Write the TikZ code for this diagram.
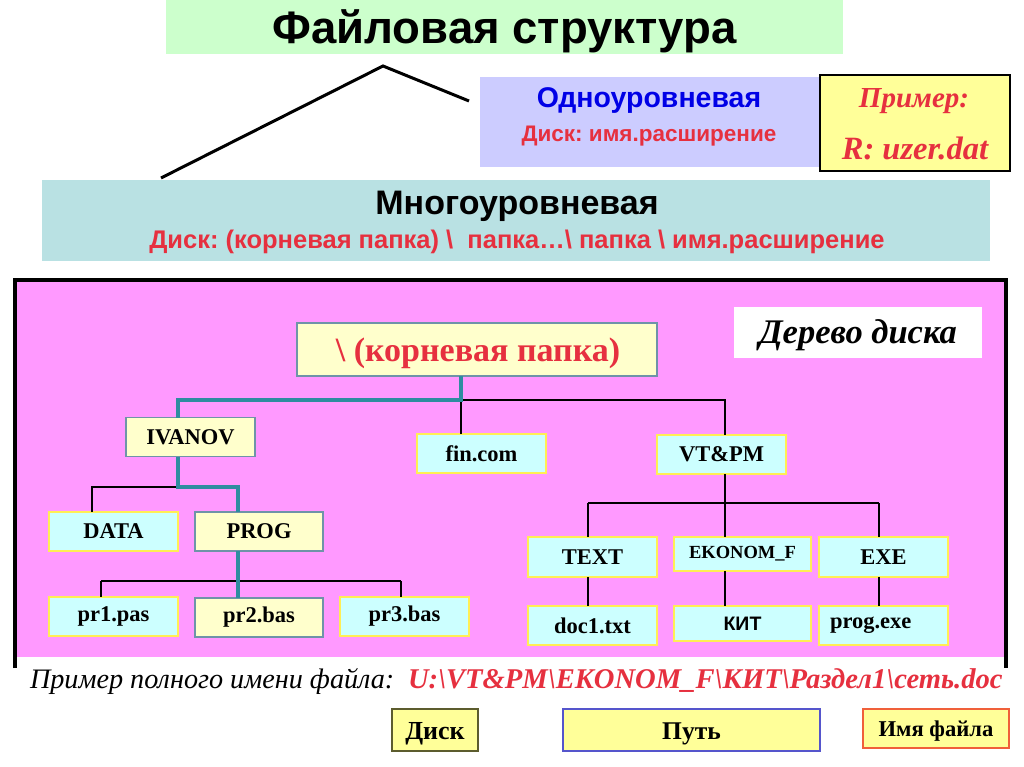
\documentclass[tikz,border=0pt]{standalone}
\usepackage{fontspec}
\setmainfont{Liberation Serif}
\setsansfont{Liberation Sans}
\frenchspacing
\definecolor{titlegreen}{HTML}{CCFFCC}
\definecolor{lavender}{HTML}{CCCCFF}
\definecolor{paleyellow}{HTML}{FFFF99}
\definecolor{multiteal}{HTML}{B9E1E3}
\definecolor{magentabg}{HTML}{FF99FF}
\definecolor{nodeyellow}{HTML}{FFFFCC}
\definecolor{nodecyan}{HTML}{CCFFFF}
\definecolor{yellowedge}{HTML}{FFEE55}
\definecolor{grayblue}{HTML}{6F93A8}
\definecolor{tealline}{HTML}{2E8CA0}
\definecolor{redtext}{HTML}{E6303F}
\definecolor{bluetext}{HTML}{0000E6}
\definecolor{oliveedge}{HTML}{5C5C2E}
\definecolor{blueedge}{HTML}{5555CC}
\definecolor{orangeedge}{HTML}{F0603A}
\newcommand{\fs}[1]{\fontsize{#1}{#1}\selectfont}
\tikzset{
  plain/.style={inner sep=0pt, outer sep=0pt, align=center},
  cyanbox/.style={plain, fill=nodecyan, draw=yellowedge, line width=1.3pt, minimum width=129pt, minimum height=39pt, font=\bfseries\fs{22.5}},
  yelbox/.style={plain, fill=nodeyellow, draw=grayblue, line width=1.3pt, minimum width=129pt, minimum height=39pt, font=\bfseries\fs{22.5}},
  thinline/.style={draw=black, line width=1.2pt},
  thickline/.style={draw=tealline, line width=3.5pt},
  btmbox/.style={plain, fill=paleyellow, line width=1.5pt, minimum height=42pt}
}
\begin{document}
\begin{tikzpicture}[x=1pt, y=-1pt]
\useasboundingbox[fill=white] (0,0) rectangle (1024,767);

% title
\node[plain, fill=titlegreen, minimum width=677pt, minimum height=54pt] (title) at (504.5,27) {};
\node[plain, font=\sffamily\bfseries\fs{45.5}] (titletext) at (504.5,31) {Файловая структура};

% single level
\node[plain, fill=lavender, minimum width=340pt, minimum height=90pt] (single) at (650,122) {};
\node[plain, font=\sffamily\bfseries\fs{28.5}, text=bluetext] (singletext) at (649,101) {Одноуровневая};
\node[plain, font=\sffamily\bfseries\fs{22.5}, text=redtext] (singlepath) at (649,136) {Диск: имя.расширение};

% example
\node[plain, fill=paleyellow, draw=black, line width=1.5pt, minimum width=190pt, minimum height=96pt] (example) at (915,123) {};
\node[plain, font=\bfseries\itshape\fs{29}, text=redtext] (extitle) at (914,101) {Пример:};
\node[plain, font=\bfseries\itshape\fs{32.5}, text=redtext] (exfile) at (915,148) {R: uzer.dat};

% multi level
\node[plain, fill=multiteal, minimum width=948pt, minimum height=81pt] (multi) at (516,220.5) {};
\node[plain, font=\sffamily\bfseries\fs{34}] (multitext) at (517,206) {Многоуровневая};
\node[plain, font=\sffamily\bfseries\fs{25.5}, text=redtext] (multipath) at (517,242) {Диск: (корневая папка) \textbackslash\ \ папка…\textbackslash\ папка \textbackslash\ имя.расширение};

% connecting lines at top
\coordinate (apex) at (383,66);
\coordinate (singleend) at (469,101);
\draw[line width=3pt] (multi.north -| 161,0) ++(0,-2) -- (apex) -- (singleend);

% magenta tree area
\fill[magentabg] (13,278) rectangle (1008,657);
\draw[line width=4pt] (15,668) -- (15,280) -- (1006,280) -- (1006,668);

\node[plain, fill=white, minimum width=248pt, minimum height=51pt] (treelabel) at (858,332.5) {};
\node[plain, font=\bfseries\itshape\fs{34.5}] (treelabeltext) at (858,335) {Дерево диска};

\node[plain, fill=nodeyellow, draw=grayblue, line width=1.3pt, minimum width=360pt, minimum height=53pt] (root) at (477,349.5) {};
\node[plain, font=\bfseries\fs{34}, text=redtext] (roottext) at (478,353) {\textbackslash\ (корневая папка)};

\node[yelbox] (ivanov) at (190.5,437) {IVANOV};
\node[cyanbox] (fin) at (481.5,453.5) {fin.com};
\node[cyanbox] (vtpm) at (721.5,454.5) {VT\&PM};

\node[cyanbox] (data) at (113.5,531.5) {DATA};
\node[yelbox, minimum width=128pt] (prog) at (259,531.5) {PROG};

\node[cyanbox] (pr1) at (113.5,616.5) {pr1.pas};
\node[yelbox, minimum width=128pt] (pr2) at (259,617.5) {pr2.bas};
\node[cyanbox] (pr3) at (404.5,616.5) {pr3.bas};

\node[cyanbox, minimum height=40pt] (textn) at (592.5,557) {TEXT};
\node[cyanbox, minimum width=137pt, minimum height=34pt, font=\bfseries\fs{18.5}] (ekonom) at (742.5,554) {\raisebox{3pt}{EKONOM\_F}};
\node[cyanbox, minimum height=40pt] (exe) at (883.5,557) {EXE};

\node[cyanbox] (doc) at (592.5,625.5) {doc1.txt};
\node[cyanbox, minimum width=137pt, minimum height=35pt, font=\sffamily\bfseries\fs{19.5}] (kit) at (742.5,623.5) {КИТ};
\node[cyanbox] (progexe) at (883.5,625.5) {\makebox[129pt][l]{\hspace{11pt}prog.exe}};

% tree connectors
\coordinate (jroot) at (461,400);
\coordinate (jivanov) at (178,487);
\coordinate (jprog) at (238,581);
\coordinate (jvtpm) at (725,503);

\draw[thinline] (jroot) -- (jroot |- fin.north);
\draw[thinline] (jroot) -| (vtpm.north -| 725,0);
\draw[thickline] (root.south -| jroot) -- (jroot) -| (ivanov.north -| 178,0);

\draw[thinline] (jivanov) -| (data.north -| 92,0);
\draw[thickline] (ivanov.south -| jivanov) -- (jivanov) -| (prog.north -| jprog);

\draw[thinline] (101,581) -- (401,581);
\draw[thinline] (101,581) -- (pr1.north -| 101,0);
\draw[thinline] (401,581) -- (pr3.north -| 401,0);
\draw[thickline] (prog.south -| jprog) -- (pr2.north -| jprog);

\draw[thinline] (vtpm.south -| jvtpm) -- (ekonom.north -| jvtpm);
\draw[thinline] (588,503) -- (879,503);
\draw[thinline] (588,503) -- (textn.north -| 588,0);
\draw[thinline] (879,503) -- (exe.north -| 879,0);

\draw[thinline] (textn.south -| 588,0) -- (doc.north -| 588,0);
\draw[thinline] (ekonom.south -| 725,0) -- (kit.north -| 725,0);
\draw[thinline] (exe.south -| 879,0) -- (progexe.north -| 879,0);

% bottom line
\node[plain, anchor=west, font=\itshape\fs{28.2}] (fullname) at (30,681) {Пример полного имени файла:};
\node[plain, anchor=west, font=\bfseries\itshape\fs{28.6}, text=redtext] (fullpath) at (408,681) {U:\textbackslash VT\&PM\textbackslash EKONOM\_F\textbackslash КИТ\textbackslash Раздел1\textbackslash сеть.doc};

% legend boxes
\node[btmbox, draw=oliveedge, minimum width=86pt] (disk) at (435,730) {};
\node[plain, font=\bfseries\fs{26}] (disktext) at (435,734) {Диск};
\node[btmbox, draw=blueedge, minimum width=257pt] (path) at (691.5,730) {};
\node[plain, font=\bfseries\fs{25.5}] (pathtext) at (691.5,734) {Путь};
\node[btmbox, draw=orangeedge, minimum width=146pt, minimum height=39pt] (fname) at (936,728.5) {};
\node[plain, font=\bfseries\fs{22.6}] (fnametext) at (936,731.5) {Имя файла};
\end{tikzpicture}
\end{document}
